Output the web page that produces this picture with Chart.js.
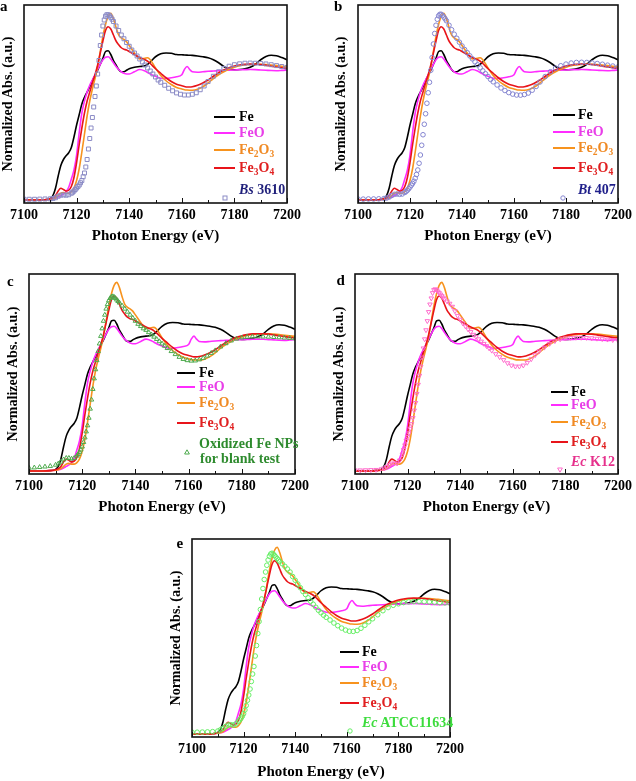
<!DOCTYPE html>
<html><head><meta charset="utf-8">
<script src="https://cdn.jsdelivr.net/npm/chart.js@4.4.1/dist/chart.umd.min.js"></script>
<style>
html,body{margin:0;padding:0;background:#fff;}
body{width:636px;height:781px;position:relative;overflow:hidden;font-family:"Liberation Serif","Times New Roman",serif;}
canvas{position:absolute;}
.lg{position:absolute;font-weight:bold;font-size:14px;line-height:16px;white-space:nowrap;}
.sw{position:absolute;height:2px;}
.s{font-size:9.5px;position:relative;top:3px;}
.pl{position:absolute;font-weight:bold;font-size:15px;line-height:16px;}
.mk{position:absolute;}
</style></head><body>
<script>
// ---------- DATA ----------
const xTicks = [7100, 7120, 7140, 7160, 7180, 7200];
const refE = [7100, 7105, 7108,
 7110, 7111, 7112, 7113, 7114, 7115, 7116, 7117, 7118, 7119,
 7120, 7121, 7122, 7123, 7124, 7125, 7126, 7127, 7128, 7129,
 7130, 7131, 7132, 7133, 7134, 7135, 7136, 7137, 7138, 7139,
 7140, 7142, 7144, 7146, 7147, 7148, 7150, 7152, 7154, 7156,
 7158, 7160, 7161, 7162, 7163, 7164, 7166, 7168, 7170, 7172,
 7174, 7176, 7178, 7180, 7182, 7184, 7186, 7188, 7190, 7192,
 7194, 7196, 7198, 7200];
const refNames = ['Fe', 'FeO', 'Fe2O3', 'Fe3O4'];
const refColors = ['#000000', '#ff2cff', '#f7931e', '#e8141a'];
const refTextColors = ['#000000', '#e83ee8', '#f08a24', '#e02020'];
const fe = [0, 0, 0.002,
 0.01, 0.03, 0.08, 0.16, 0.23, 0.27, 0.295, 0.315, 0.35, 0.42,
 0.5, 0.57, 0.64, 0.685, 0.72, 0.755, 0.795, 0.83, 0.865, 0.905,
 0.945, 0.99, 0.995, 0.97, 0.93, 0.9, 0.87, 0.855, 0.855, 0.865,
 0.875, 0.885, 0.89, 0.895, 0.905, 0.92, 0.955, 0.975, 0.98, 0.978,
 0.97, 0.968, 0.967, 0.966, 0.965, 0.964, 0.96, 0.955, 0.948, 0.935,
 0.915, 0.89, 0.873, 0.868, 0.87, 0.875, 0.885, 0.905, 0.935, 0.957,
 0.965, 0.962, 0.95, 0.935];
const feO = [0, 0, 0.002,
 0.005, 0.008, 0.012, 0.02, 0.03, 0.04, 0.055, 0.085, 0.14, 0.2,
 0.3, 0.45, 0.58, 0.66, 0.72, 0.765, 0.8, 0.835, 0.87, 0.905,
 0.935, 0.952, 0.955, 0.94, 0.915, 0.89, 0.87, 0.855, 0.845, 0.84,
 0.84, 0.855, 0.87, 0.86, 0.85, 0.84, 0.825, 0.812, 0.81, 0.815,
 0.822, 0.835, 0.87, 0.89, 0.87, 0.855, 0.852, 0.855, 0.858, 0.86,
 0.862, 0.864, 0.866, 0.867, 0.868, 0.869, 0.87, 0.869, 0.867, 0.865,
 0.863, 0.862, 0.864, 0.867];
const fe2O3 = [0, 0, 0.002,
 0.005, 0.008, 0.015, 0.03, 0.045, 0.05, 0.045, 0.045, 0.055, 0.08,
 0.13, 0.21, 0.32, 0.44, 0.56, 0.66, 0.74, 0.81, 0.89, 0.99,
 1.09, 1.17, 1.225, 1.245, 1.21, 1.15, 1.1, 1.08, 1.07, 1.055,
 1.03, 0.98, 0.94, 0.945, 0.948, 0.935, 0.88, 0.83, 0.795, 0.77,
 0.75, 0.74, 0.735, 0.733, 0.732, 0.732, 0.738, 0.755, 0.78, 0.81,
 0.835, 0.855, 0.872, 0.885, 0.895, 0.9, 0.903, 0.905, 0.905, 0.903,
 0.9, 0.896, 0.892, 0.888];
const fe3O4 = [0, 0, 0.002,
 0.008, 0.015, 0.03, 0.06, 0.078, 0.07, 0.06, 0.065, 0.09, 0.15,
 0.25, 0.37, 0.48, 0.58, 0.66, 0.72, 0.78, 0.835, 0.9, 0.98,
 1.06, 1.13, 1.155, 1.14, 1.1, 1.06, 1.035, 1.015, 1.005, 1.0,
 0.99, 0.97, 0.95, 0.935, 0.925, 0.91, 0.875, 0.845, 0.815, 0.79,
 0.772, 0.762, 0.757, 0.753, 0.753, 0.755, 0.765, 0.78, 0.8, 0.825,
 0.848, 0.867, 0.882, 0.893, 0.9, 0.905, 0.906, 0.905, 0.903, 0.898,
 0.892, 0.887, 0.882, 0.878];

const sampE = [7100, 7102, 7104, 7106, 7108,
 7110, 7111, 7112, 7113, 7114, 7115, 7116, 7117, 7118,
 7118.5, 7119, 7119.5, 7120, 7120.5, 7121, 7121.5, 7122, 7122.5, 7123,
 7123.5, 7124, 7124.5, 7125, 7125.5, 7126, 7126.5, 7127, 7127.5, 7128,
 7128.5, 7129, 7129.5, 7130, 7130.5, 7131, 7131.5, 7132, 7132.5, 7133,
 7133.5, 7134,
 7135, 7136, 7137, 7138, 7139, 7140, 7141, 7142, 7143, 7144,
 7145, 7146, 7147, 7148, 7149, 7150, 7151, 7152,
 7153.5, 7155, 7156.5, 7158, 7159.5, 7161, 7162.5, 7164, 7165.5, 7167, 7168.5, 7170,
 7172, 7174, 7176, 7178, 7180, 7182, 7184, 7186, 7188, 7190, 7192, 7194, 7196, 7198, 7200];
const bs3610 = [0.005, 0.005, 0.005, 0.006, 0.007,
 0.008, 0.01, 0.015, 0.025, 0.032, 0.034, 0.032, 0.035, 0.045,
 0.052, 0.06, 0.07, 0.08, 0.09, 0.1, 0.115, 0.13, 0.155, 0.18,
 0.22, 0.27, 0.34, 0.41, 0.48, 0.55, 0.62, 0.69, 0.76, 0.84,
 0.93, 1.03, 1.1, 1.16, 1.2, 1.225, 1.235, 1.235, 1.228, 1.218,
 1.205, 1.19,
 1.16, 1.13, 1.1, 1.075, 1.05, 1.025, 1.0, 0.98, 0.96, 0.94,
 0.92, 0.9, 0.88, 0.86, 0.84, 0.82, 0.8, 0.785,
 0.765, 0.745, 0.728, 0.714, 0.705, 0.7, 0.7, 0.705, 0.715, 0.735, 0.76, 0.79,
 0.825, 0.855, 0.877, 0.892, 0.902, 0.908, 0.912, 0.913, 0.912, 0.91, 0.907, 0.902, 0.896, 0.89, 0.884];
const bt407 = [0.006, 0.006, 0.007, 0.007, 0.008,
 0.01, 0.013, 0.02, 0.03, 0.038, 0.04, 0.038, 0.04, 0.05,
 0.057, 0.065, 0.075, 0.086, 0.098, 0.11, 0.125, 0.145, 0.17, 0.2,
 0.245, 0.3, 0.365, 0.435, 0.505, 0.575, 0.645, 0.715, 0.785, 0.865,
 0.95, 1.04, 1.11, 1.165, 1.205, 1.228, 1.238, 1.238, 1.23, 1.22,
 1.208, 1.195,
 1.165, 1.135, 1.105, 1.078, 1.052, 1.027, 1.003, 0.982, 0.961, 0.941,
 0.921, 0.901, 0.881, 0.861, 0.842, 0.823, 0.804, 0.788,
 0.767, 0.747, 0.73, 0.716, 0.706, 0.7, 0.699, 0.703, 0.713, 0.732, 0.757, 0.787,
 0.823, 0.855, 0.879, 0.895, 0.906, 0.913, 0.917, 0.918, 0.917, 0.914, 0.91, 0.905, 0.899, 0.893, 0.887];
const oxidizedFeNPs = [0.02, 0.022, 0.025, 0.028, 0.032,
 0.04, 0.048, 0.06, 0.075, 0.085, 0.085, 0.08, 0.085, 0.1,
 0.11, 0.125, 0.14, 0.16, 0.19, 0.22, 0.26, 0.3, 0.35, 0.41,
 0.47, 0.54, 0.61, 0.67, 0.73, 0.79, 0.84, 0.89, 0.94, 0.99,
 1.03, 1.07, 1.1, 1.125, 1.14, 1.15, 1.152, 1.148, 1.14, 1.13,
 1.12, 1.11,
 1.09, 1.07, 1.05, 1.03, 1.01, 0.99, 0.97, 0.955, 0.94, 0.93,
 0.915, 0.9, 0.885, 0.87, 0.855, 0.84, 0.825, 0.81,
 0.79, 0.77, 0.752, 0.738, 0.73, 0.727, 0.728, 0.735, 0.745, 0.76, 0.778, 0.795,
 0.82, 0.842, 0.86, 0.872, 0.88, 0.885, 0.887, 0.887, 0.886, 0.885, 0.883, 0.881, 0.879, 0.877, 0.875];
const ecK12 = [0.005, 0.005, 0.006, 0.007, 0.008,
 0.012, 0.018, 0.028, 0.04, 0.05, 0.05, 0.05, 0.07, 0.11,
 0.14, 0.17, 0.2, 0.225, 0.25, 0.28, 0.31, 0.35, 0.4, 0.45,
 0.51, 0.57, 0.63, 0.69, 0.75, 0.81, 0.87, 0.93, 0.99, 1.05,
 1.1, 1.14, 1.175, 1.195, 1.2, 1.195, 1.185, 1.175, 1.165, 1.155,
 1.145, 1.135,
 1.12, 1.105, 1.085, 1.055, 1.025, 1.0, 0.975, 0.955, 0.935, 0.918,
 0.9, 0.885, 0.87, 0.855, 0.84, 0.825, 0.81, 0.795,
 0.772, 0.752, 0.733, 0.712, 0.697, 0.69, 0.69, 0.697, 0.715, 0.738, 0.765, 0.79,
 0.815, 0.84, 0.858, 0.87, 0.876, 0.879, 0.88, 0.88, 0.879, 0.877, 0.874, 0.871, 0.868, 0.865, 0.862];
const ecATCC11634 = [0.012, 0.012, 0.013, 0.014, 0.016,
 0.02, 0.028, 0.038, 0.05, 0.06, 0.062, 0.06, 0.068, 0.085,
 0.095, 0.105, 0.118, 0.135, 0.16, 0.19, 0.225, 0.26, 0.3, 0.35,
 0.4, 0.45, 0.52, 0.59, 0.67, 0.75, 0.83, 0.9, 0.97, 1.03,
 1.08, 1.125, 1.16, 1.185, 1.2, 1.205, 1.2, 1.19, 1.18, 1.17,
 1.16, 1.15,
 1.135, 1.118, 1.1, 1.08, 1.05, 1.025, 1.0, 0.975, 0.95, 0.93,
 0.908, 0.885, 0.865, 0.845, 0.825, 0.808, 0.792, 0.778,
 0.76, 0.74, 0.722, 0.706, 0.693, 0.685, 0.684, 0.69, 0.705, 0.725, 0.748, 0.768,
 0.795, 0.822, 0.843, 0.858, 0.868, 0.876, 0.881, 0.883, 0.883, 0.882, 0.88, 0.878, 0.876, 0.874, 0.872];
const refSeries = [fe, feO, fe2O3, fe3O4];

// ---------- LAYOUT ----------
const FONT = '"Liberation Serif","Times New Roman",serif';
Chart.defaults.font.family = FONT;
Chart.defaults.color = '#000';

const frame = {
  id: 'frame',
  afterDraw(chart) {
    const {ctx, chartArea: a, scales: {x}} = chart;
    ctx.save();
    ctx.strokeStyle = '#111';
    ctx.lineWidth = 1;
    const t = x.ticks.map(k => k.value);
    const marks = [];
    t.forEach((v, i) => { marks.push([v, 5]); if (i < t.length - 1) marks.push([(v + t[i + 1]) / 2, 3]); });
    marks.forEach(([v, len]) => {
      const px = Math.round(x.getPixelForValue(v)) + 0.5;
      ctx.beginPath(); ctx.moveTo(px, a.bottom); ctx.lineTo(px, a.bottom - len); ctx.stroke();
    });
    ctx.lineWidth = 1.6;
    ctx.strokeRect(a.left, a.top, a.right - a.left, a.bottom - a.top);
    ctx.restore();
  }
};

function subs(name) { return name.replace(/(\d)/g, '<span class="s">$1</span>'); }

function addDiv(cls, html, left, top, style) {
  const d = document.createElement('div');
  d.className = cls; d.innerHTML = html;
  d.style.left = left + 'px'; d.style.top = top + 'px';
  if (style) Object.assign(d.style, style);
  document.body.appendChild(d);
  return d;
}

function markerSVG(shape, color) {
  let s = '';
  if (shape === 'rect') s = `<rect x="1" y="1" width="4" height="4" fill="none" stroke="${color}" stroke-width="1"/>`;
  else if (shape === 'circle') s = `<circle cx="3" cy="3" r="2.2" fill="none" stroke="${color}" stroke-width="1"/>`;
  else if (shape === 'tri') s = `<polygon points="3,0.8 5.4,5 0.6,5" fill="none" stroke="${color}" stroke-width="1"/>`;
  else if (shape === 'tridown') s = `<polygon points="0.6,1 5.4,1 3,5.2" fill="none" stroke="${color}" stroke-width="1"/>`;
  return `<svg width="6" height="6" viewBox="0 0 6 6">${s}</svg>`;
}

function panel(p) {
  const cv = document.createElement('canvas');
  cv.width = p.w; cv.height = p.h;
  cv.style.left = p.cx + 'px'; cv.style.top = p.cy + 'px';
  document.body.appendChild(cv);
  const datasets = [{
    label: p.sampleText,
    data: sampE.map((e, i) => ({x: e, y: p.sample[i]})),
    showLine: false, pointStyle: p.pstyle, rotation: p.prot || 0,
    pointRadius: p.pr, pointBorderWidth: 1, pointBorderColor: p.pcol,
    pointBackgroundColor: 'rgba(0,0,0,0)', borderColor: p.pcol, order: 0
  }].concat(refSeries.map((s, k) => ({
    label: refNames[k],
    data: refE.map((e, i) => ({x: e, y: s[i]})),
    borderColor: refColors[k], borderWidth: 1.6, pointRadius: 0,
    cubicInterpolationMode: 'monotone', fill: false, order: 4 - k
  })));
  new Chart(cv, {
    type: 'line',
    data: {datasets},
    plugins: [frame],
    options: {
      responsive: false, animation: false, events: [],
      layout: {autoPadding: false, padding: {left: 0, top: p.pt, right: p.pright, bottom: 0}},
      plugins: {legend: {display: false}, tooltip: {enabled: false}},
      scales: {
        x: {
          type: 'linear', min: xTicks[0], max: xTicks[xTicks.length - 1],
          grid: {display: false, drawTicks: false}, border: {display: false},
          ticks: {stepSize: xTicks[1] - xTicks[0], padding: 4, maxRotation: 0, autoSkip: false,
            font: {size: 14, weight: 'bold'}, color: '#000', callback: v => String(v)},
          title: {display: true, text: 'Photon Energy (eV)', font: {size: 15, weight: 'bold'}, padding: 0, color: '#000'},
          afterFit: s => { s.height = p.xh; }
        },
        y: {
          min: -0.02, max: 1.3,
          grid: {display: false, drawTicks: false}, border: {display: false},
          ticks: {display: false},
          title: {display: true, text: 'Normalized Abs. (a.u.)', font: {size: 14, weight: 'bold'}, padding: 0, color: '#000'},
          afterFit: s => { s.width = p.yw; }
        }
      }
    }
  });
  // legend
  const L = p.leg;
  refNames.forEach((n, k) => {
    addDiv('sw', '', L.x0, L.rows[k] - 1, {width: (L.x1 - L.x0) + 'px', background: refColors[k]});
    addDiv('lg', subs(n), L.tx, L.rows[k] - 8, {color: refTextColors[k]});
  });
  addDiv('mk', markerSVG(p.lshape, p.pcol), L.mx - 3, L.rows[4] - 3);
  p.sampleLines.forEach((t, j) => addDiv('lg', t, L.tx + (j ? L.indent2 || 0 : 0), L.rows[4 + j] - 8, {color: p.tcol}));
  addDiv('pl', p.letter, p.lx, p.ly);
}

panel({letter: 'a', lx: 0, ly: -2, cx: 0, cy: 0, w: 305, h: 245, pt: 5, pright: 16, xh: 42, yw: 24,
  sample: bs3610, sampleText: 'Bs 3610', sampleLines: ['<i>Bs</i> 3610'], pstyle: 'rect', pr: 2.8, pcol: '#8b8bc6', tcol: '#1f1f7a', lshape: 'rect',
  leg: {x0: 214, x1: 235, tx: 239, mx: 225, rows: [116.5, 132.5, 149.5, 168.3, 189.5]}});
panel({letter: 'b', lx: 334, ly: -2, cx: 333, cy: 0, w: 303, h: 245, pt: 5, pright: 14, xh: 42, yw: 25,
  sample: bt407, sampleText: 'Bt 407', sampleLines: ['<i>Bt</i> 407'], pstyle: 'circle', pr: 2.3, pcol: '#8585d0', tcol: '#1f1f8a', lshape: 'circle',
  leg: {x0: 553, x1: 575, tx: 578, mx: 563, rows: [115, 131.7, 148.3, 168.3, 190]}});
panel({letter: 'c', lx: 7, ly: 272.5, cx: 5, cy: 262, w: 310, h: 254, pt: 12, pright: 20, xh: 42, yw: 24,
  sample: oxidizedFeNPs, sampleText: 'Oxidized Fe NPs for blank test', sampleLines: ['Oxidized Fe NPs', 'for blank test'], pstyle: 'triangle', pr: 2.6, pcol: '#4daa4d', tcol: '#2e8b2e', lshape: 'tri',
  leg: {x0: 177, x1: 195, tx: 199, mx: 187, indent2: 1, rows: [372.7, 386.7, 403.3, 423.3, 444, 459]}});
panel({letter: 'd', lx: 336.5, ly: 272.3, cx: 331, cy: 262, w: 305, h: 254, pt: 12, pright: 16, xh: 42, yw: 24,
  sample: ecK12, sampleText: 'Ec K12', sampleLines: ['<i>Ec</i> K12'], pstyle: 'triangle', prot: 180, pr: 2.6, pcol: '#ff6ccc', tcol: '#e6308c', lshape: 'tridown',
  leg: {x0: 551, x1: 568, tx: 571, mx: 560, rows: [391.7, 405, 421.7, 441.7, 461.7]}});
panel({letter: 'e', lx: 176.5, ly: 535.3, cx: 168, cy: 527, w: 300, h: 254, pt: 12, pright: 10, xh: 44, yw: 24,
  sample: ecATCC11634, sampleText: 'Ec ATCC11634', sampleLines: ['<i>Ec</i> ATCC11634'], pstyle: 'circle', pr: 2.3, pcol: '#66ee66', tcol: '#3ddc3d', lshape: 'circle',
  leg: {x0: 340, x1: 359, tx: 362, mx: 350, rows: [651.7, 666.7, 683.3, 703.3, 723.3]}});
</script>
</body></html>
